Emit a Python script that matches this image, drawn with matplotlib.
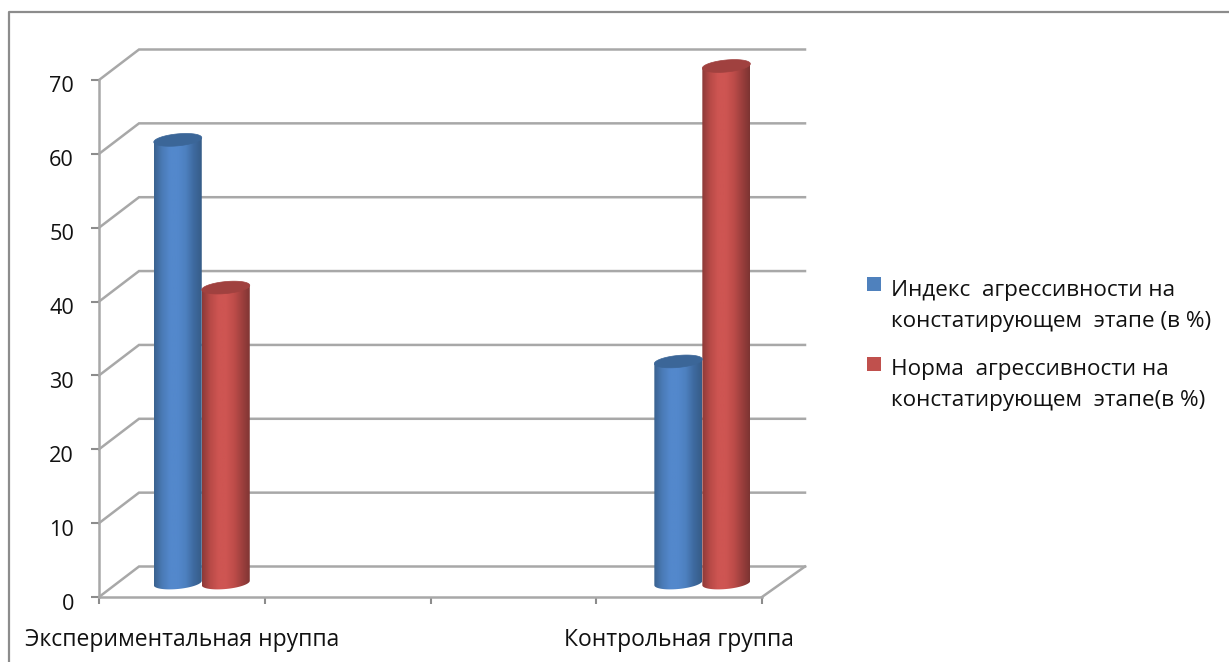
import numpy as np
import matplotlib
matplotlib.use("Agg")
import matplotlib.pyplot as plt
from matplotlib.colors import LinearSegmentedColormap
from matplotlib.lines import Line2D
from matplotlib.patches import PathPatch, Rectangle
from matplotlib.path import Path
from matplotlib.transforms import ScaledTranslation

categories = ["Экспериментальная нруппа", "Контрольная группа"]
index_values = [60, 30]
norm_values = [40, 70]
y_ticks = [0, 10, 20, 30, 40, 50, 60, 70]
legend_labels = [
    ["Индекс  агрессивности на", "констатирующем  этапе (в %)"],
    ["Норма  агрессивности на", "констатирующем  этапе(в %)"],
]

W, H = 1229, 662
plt.rcParams["font.family"] = ["Open Sans", "DejaVu Sans"]
TEXT = "#111111"
GRID = "#a8a8a8"

fig = plt.figure(figsize=(W / 100, H / 100), dpi=100, facecolor="white")

# Plot box given in pixels from the top-left corner of the figure
left, right, top, bottom = 99, 762, 80, 597
ax = fig.add_axes([left / W, 1 - bottom / H, (right - left) / W, (bottom - top) / H])
ax.set_facecolor("none")
ax.set_xlim(0, 4)
ax.set_ylim(0, 70)

px_x = 4 / (right - left)
px_y = 70 / (bottom - top)

# Outer frame, open on the right and bottom edges
fig.add_artist(Line2D([9 / W, 9 / W, 1], [0, 1 - 12 / H, 1 - 12 / H],
                      color="#8c8c8c", lw=1.6, transform=fig.transFigure))

# Back wall and slanted floor/side lines of the pseudo-3D box
depth_x, depth_y = 40 * px_x, 30.5 * px_y
wall_end = 4 + 43 * px_x
for v in y_ticks:
    ax.plot([0, depth_x, wall_end], [v, v + depth_y, v + depth_y],
            color=GRID, lw=1.8, clip_on=False, zorder=1, solid_joinstyle="miter")
ax.plot([4, wall_end], [0, depth_y], color=GRID, lw=1.8, clip_on=False, zorder=1)

for side in ("top", "right"):
    ax.spines[side].set_visible(False)
for side in ("left", "bottom"):
    ax.spines[side].set_color(GRID)
    ax.spines[side].set_linewidth(1.8)

ax.set_yticks(y_ticks)
ax.set_xticks(range(5))
ax.set_xticklabels([])
ax.set_xticks([0.5, 3.5], labels=categories, minor=True)
ax.tick_params(axis="y", length=5.5, width=1.5, color="#8c8c8c", labelsize=15.6,
               labelcolor=TEXT, pad=12.5)
ax.tick_params(axis="x", which="major", length=5, width=1.5, color="#8c8c8c")
ax.tick_params(axis="x", which="minor", length=0, labelsize=16.5, labelcolor=TEXT, pad=22)
shift_down = ScaledTranslation(0, -4.5 / 100, fig.dpi_scale_trans)
for lab in ax.get_yticklabels():
    lab.set_transform(lab.get_transform() + shift_down)


def cylinder(center, value, colors, cap):
    """Shaded upright cylinder standing on the floor of the box."""
    half_w, half_h, tilt = 24, 6, 2.2
    base = 14 * px_y
    x0, x1 = center - half_w * px_x, center + half_w * px_x
    y0, y1 = base, value + base

    t = np.linspace(np.pi, 2 * np.pi, 40)
    low_x = center + half_w * px_x * np.cos(t)
    low_y = y0 + (half_h * np.sin(t) + tilt * np.cos(t)) * px_y
    outline = np.column_stack([
        np.r_[x0, low_x, x1, x0],
        np.r_[y1 - tilt * px_y, low_y, y1 + tilt * px_y, y1 - tilt * px_y],
    ])
    body = PathPatch(Path(outline), transform=ax.transData, fc="none", ec="none",
                     clip_on=False)
    ax.add_patch(body)

    cmap = LinearSegmentedColormap.from_list("shade", colors)
    img = ax.imshow(np.linspace(0, 1, 128)[None, :], cmap=cmap, aspect="auto",
                    extent=(x0, x1, y0 - 2 * half_h * px_y, y1 + 2 * half_h * px_y),
                    zorder=3)
    img.set_clip_box(fig.bbox)
    img.set_clip_path(body)

    t = np.linspace(0, 2 * np.pi, 80)
    top_xy = np.column_stack([
        center + half_w * px_x * np.cos(t),
        y1 + (half_h * np.sin(t) + tilt * np.cos(t)) * px_y,
    ])
    ax.add_patch(PathPatch(Path(top_xy), fc=cap, ec=cap, lw=0.5, zorder=4, clip_on=False))


blue = ["#3a628f", "#4a7ab6", "#5388cc", "#5388cc", "#4d80bf", "#3e6a9f", "#365c88"]
red = ["#8c3a38", "#b84a47", "#ce5552", "#ce5552", "#bd4c49", "#9c3f3d", "#7c3432"]
group_centers = [0.62, 3.64]
half_gap = 24 * px_x
for gc, a, b in zip(group_centers, index_values, norm_values):
    cylinder(gc - half_gap, a, blue, "#3b6698")
    cylinder(gc + half_gap, b, red, "#a0413f")

ax.set_xlim(0, 4)
ax.set_ylim(0, 70)

# Legend laid out beside the plot
for (line1, line2), swatch, y1, y2, ys in zip(
        legend_labels, ["#4f81bd", "#c0504d"], [290.5, 369.5], [321.5, 400.5], [277, 357]):
    fig.add_artist(Rectangle((867 / W, 1 - (ys + 14) / H), 14 / W, 14 / H, fc=swatch, ec="none",
                             transform=fig.transFigure))
    fig.text(891 / W, 1 - y1 / H, line1, fontsize=16.2, color=TEXT, va="center")
    fig.text(891 / W, 1 - y2 / H, line2, fontsize=16.2, color=TEXT, va="center")

fig.savefig("out.png", dpi=100)
